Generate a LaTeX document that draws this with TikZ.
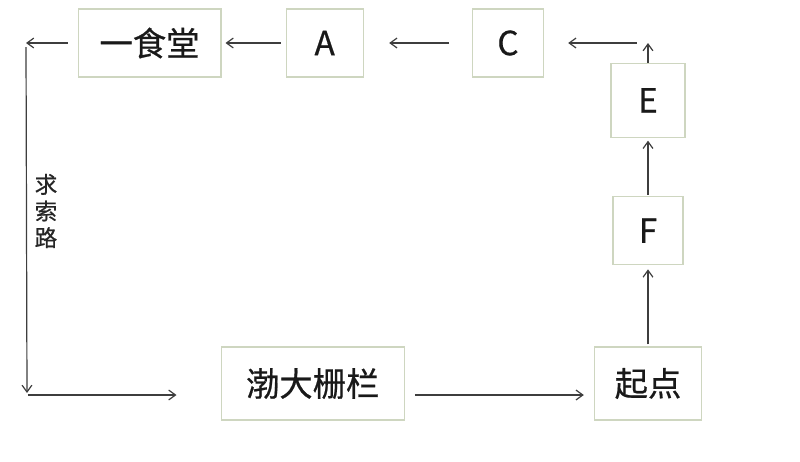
\documentclass[tikz,border=0pt]{standalone}
\usepackage{fontspec}
\setmainfont{Noto Sans CJK SC}
\newfontfamily\heavyfont{Noto Sans CJK SC}[FakeBold=0.6]
\usepackage{tikz}
\usetikzlibrary{arrows.meta, positioning}
\definecolor{boxline}{RGB}{206,214,192}
\definecolor{arrowgray}{RGB}{62,62,62}
\tikzset{
  box/.style={rectangle, draw=boxline, line width=1pt, fill=white, inner sep=0pt, align=center, text=black!90, font=\heavyfont\fontsize{25}{30}\selectfont},
  rel/.style={-{Straight Barb[length=1.8mm, width=2.6mm]}, draw=arrowgray, line width=0.9pt},
}

\begin{document}
\begin{tikzpicture}[x=0.75pt, y=-0.75pt]
\useasboundingbox (0,0) rectangle (800,461);
\node[box, minimum width=107pt, minimum height=51pt] (canteen) at (149.5,43) {一食堂};
\node[box, minimum width=57.75pt, minimum height=51pt, right=48pt of canteen] (nodeA) {A};
\node[box, minimum width=53.25pt, minimum height=51pt, right=81pt of nodeA] (nodeC) {C};
\node[box, minimum width=80.25pt, minimum height=54.75pt] (start) at (648,383.5) {起点};
\node[box, minimum width=137.25pt, minimum height=54.75pt, left=141.75pt of start] (gate) {渤大栅栏};
\node[box, minimum width=52.5pt, minimum height=51pt, above=60.75pt of start] (nodeF) {F};
\node[box, minimum width=55.5pt, minimum height=55.5pt, above=43.5pt of nodeF] (nodeE) {E};
\node[font=\heavyfont\fontsize{17}{20}\selectfont, align=center, text=black!85] (roadLabel) at (46,211) {求\\索\\路};

\coordinate (nwCorner) at (26,43);
\coordinate (swCorner) at (27,395);
\coordinate (eTurn) at (nodeE.north |- nodeC);

\draw[rel, shorten <=7.5pt] (canteen.west) -- (nwCorner);
\draw[rel, shorten <=3pt, shorten >=1.5pt] (nwCorner) -- (swCorner);
\draw[rel, shorten <=0.5pt, shorten >=33pt] (swCorner) -- (gate.west |- swCorner);
\draw[rel, shorten <=7.5pt, shorten >=7.5pt] (gate.east |- swCorner) -- (start.west |- swCorner);
\draw[rel, shorten <=1.5pt, shorten >=3pt] (start) -- (nodeF);
\draw[rel, shorten <=1pt, shorten >=2pt] (nodeF) -- (nodeE);
\draw[rel] (nodeE) -- (eTurn);
\draw[rel, shorten <=8.5pt, shorten >=18pt] (eTurn) -- (nodeC);
\draw[rel, shorten <=17pt, shorten >=19pt] (nodeC) -- (nodeA);
\draw[rel, shorten <=3.75pt, shorten >=3pt] (nodeA) -- (canteen);
\end{tikzpicture}
\end{document}
